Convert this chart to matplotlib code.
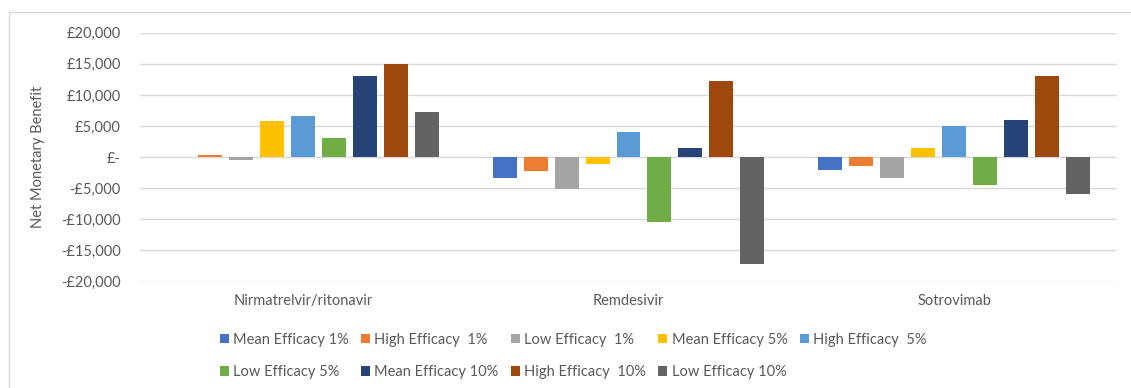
import matplotlib
matplotlib.use("Agg")
import matplotlib.pyplot as plt
import numpy as np
from matplotlib.ticker import FuncFormatter, MultipleLocator
from matplotlib.lines import Line2D

plt.rcParams['font.family'] = ['Lato', 'DejaVu Sans']

# Data
drugs = ["Nirmatrelvir/ritonavir", "Remdesivir", "Sotrovimab"]
series_labels = [
    "Mean Efficacy 1%", "High Efficacy  1%", "Low Efficacy  1%",
    "Mean Efficacy 5%", "High Efficacy  5%", "Low Efficacy 5%",
    "Mean Efficacy 10%", "High Efficacy  10%", "Low Efficacy 10%",
]
mean_1 = [0, -3300, -2100]
high_1 = [300, -2300, -1400]
low_1 = [-400, -5100, -3300]
mean_5 = [5750, -1100, 1400]
high_5 = [6650, 4100, 4950]
low_5 = [3000, -10500, -4500]
mean_10 = [13100, 1400, 5900]
high_10 = [15000, 12200, 13100]
low_10 = [7300, -17200, -6000]
series_values = [mean_1, high_1, low_1, mean_5, high_5, low_5,
                 mean_10, high_10, low_10]
colors = ["#4472C4", "#ED7D31", "#A5A5A5", "#FFC000", "#5B9BD5",
          "#70AD47", "#264478", "#9E480E", "#636363"]

FS = 10.5
TXT = "#595959"

fig = plt.figure(figsize=(11.31, 3.88), dpi=100)
ax = fig.add_axes([140 / 1131, 1 - 281.5 / 388, 977 / 1131, 248.8 / 388])

x = np.arange(len(drugs))
step = 0.0951
width = 0.0736
handles = []
for i, (vals, lab, col) in enumerate(zip(series_values, series_labels, colors)):
    b = ax.bar(x + (i - 4) * step, vals, width=width, color=col, label=lab,
               zorder=3)
    handles.append(b)

ax.set_xlim(-0.5, 2.5)
ax.set_ylim(-20000, 20000)
ax.yaxis.set_major_locator(MultipleLocator(5000))


def money(v, pos):
    if abs(v) < 1e-9:
        return "£-"
    s = f"£{abs(v):,.0f}"
    return "-" + s if v < 0 else s


ax.yaxis.set_major_formatter(FuncFormatter(money))
ax.grid(axis='y', color="#D9D9D9", linewidth=1.0, zorder=0)
for sp in ax.spines.values():
    sp.set_visible(False)
ax.tick_params(axis='y', length=0, pad=14, labelsize=FS, labelcolor=TXT)
ax.set_xticks(x)
ax.set_xticklabels(drugs)
ax.tick_params(axis='x', length=0, pad=9, labelsize=FS, labelcolor=TXT)

fig.text(38 / 1131, 1 - 157 / 388, "Net Monetary Benefit", rotation=90,
         ha='center', va='center', fontsize=FS, color=TXT)

# Legend filled row by row
order = [0, 5, 1, 6, 2, 7, 3, 8, 4]
leg = fig.legend([handles[k] for k in order],
                 [series_labels[k] for k in order],
                 ncol=5, loc='upper left',
                 bbox_to_anchor=(220 / 1131, 1 - 333 / 388),
                 frameon=False, fontsize=FS, handlelength=0.6,
                 handleheight=0.6, handletextpad=0.3, columnspacing=0.85,
                 labelspacing=1.25, borderaxespad=0, borderpad=0)
for t in leg.get_texts():
    t.set_color(TXT)

# Chart frame
fig.add_artist(Line2D([9 / 1131, 1], [1 - 12 / 388, 1 - 12 / 388],
                      transform=fig.transFigure, color="#D9D9D9", lw=1))
fig.add_artist(Line2D([9 / 1131, 9 / 1131], [0, 1 - 12 / 388],
                      transform=fig.transFigure, color="#D9D9D9", lw=1))

fig.savefig("out.png", dpi=100)
